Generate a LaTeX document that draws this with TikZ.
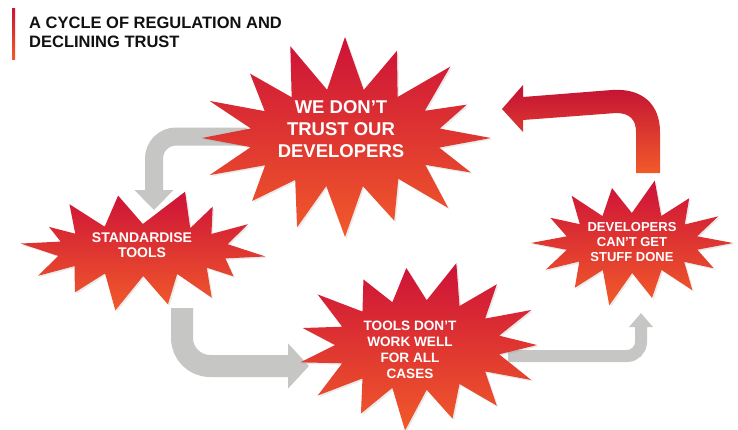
\documentclass[tikz,border=0pt]{standalone}
\usepackage{fontspec}
\setmainfont{Liberation Sans}
\usetikzlibrary{calc,arrows.meta,shadows}
\definecolor{burstTop}{HTML}{CD1238}
\definecolor{burstBot}{HTML}{F15A2A}
\definecolor{flowGrey}{HTML}{C6C7C5}
\definecolor{ink}{HTML}{111111}
\tikzset{
  burst/.style={top color=burstTop, bottom color=burstBot,
    drop shadow={opacity=0.16, shadow xshift=1.5pt, shadow yshift=-1.5pt}},
  lbl/.style={text=white, font=\bfseries, align=center, inner sep=0pt},
  flow/.style={draw=flowGrey, line cap=butt},
  title/.style={text=ink, font=\bfseries\fontsize{16.5}{19}\selectfont, align=left, inner sep=0pt},
}
% centre, rx, ry, depth, half step, spikes (angle/factor)
\newcommand\starburst[6]{%
  \begin{scope}[shift={(#1)}]
    \path[burst] ({-#5}:{#2-#4} and {#3-#4})
      \foreach \a/\k in {#6} { -- (\a:{\k*#2} and {\k*#3}) -- ({\a+#5}:{#2-#4} and {#3-#4}) } -- cycle;
  \end{scope}}

\begin{document}
\begin{tikzpicture}[x=1pt, y=-1pt]
  \fill[white] (0,0) rectangle (738,429);
  \useasboundingbox (0,0) rectangle (738,429);

  % title
  \shade[top color=burstTop, bottom color=burstBot] (12,8) rectangle (15,59);
  \node[title, anchor=north west] (head) at (29,16.7) {A CYCLE OF REGULATION AND\\DECLINING TRUST};

  % arrow ends
  \coordinate (aFrom) at (247,136.5);
  \coordinate (aTo) at (154,210);
  \coordinate (bFrom) at (182,308);
  \coordinate (bTo) at (309,366);
  \coordinate (cFrom) at (508,356);
  \coordinate (cTo) at (641,313);

  \draw[flow, line width=18pt, rounded corners=22pt, -{Triangle[length=20pt,width=38pt]}] (aFrom) -| (aTo);
  \draw[flow, line width=22pt, rounded corners=28pt, -{Triangle[length=21pt,width=44pt]}] (bFrom) |- (bTo);
  \draw[flow, line width=12pt, rounded corners=14pt, -{Triangle[length=14pt,width=23pt]}] (cFrom) -| (cTo);

  % red return arrow
  \shade[top color=burstTop!95!black, bottom color=burstBot]
    (636,173) -- (636,132) .. controls (636,120) and (630,113) .. (616,113)
    -- (523,120) -- (523,132) -- (502,109) -- (523,85) -- (523,97)
    -- (612,90) .. controls (642,88) and (660,104) .. (660,132) -- (660,173) -- cycle;

  % bursts
  \starburst{345,138}{146}{99}{50}{11.25}{0/1.0, 22/0.93, 45/1.0, 68/0.9, 90/1.0, 110/0.96, 135/0.9, 158/1.0, 180/0.98, 202/1.0, 225/0.92, 248/1.0, 270/1.02, 292/0.95, 315/1.02, 338/0.9}
  \starburst{143,250}{123}{62}{36}{12.86}{6/1.0, 30/0.85, 54/0.95, 77/0.9, 103/1.0, 129/0.88, 154/0.95, 186/1.0, 206/0.85, 231/0.95, 257/0.9, 290/1.0, 309/0.9, 334/0.95}
  \starburst{418,345}{124}{86}{41}{12}{0/0.96, 24/1.0, 48/0.95, 72/0.9, 96/1.0, 120/0.92, 144/1.0, 168/0.97, 192/0.95, 216/1.0, 240/0.88, 264/0.9, 288/1.0, 312/0.95, 336/1.0}
  \starburst{632,243}{101}{64}{34}{12.86}{0/1.0, 26/0.9, 51/0.95, 77/0.88, 103/1.0, 129/0.9, 154/0.95, 180/1.0, 206/0.9, 231/0.95, 257/0.88, 283/1.0, 309/0.9, 334/0.95}

  % labels
  \node[lbl, font=\bfseries\fontsize{18.5}{22}\selectfont] (trust) at (341,129.5) {WE DON'T\\TRUST OUR\\DEVELOPERS};
  \node[lbl, font=\bfseries\fontsize{14}{15}\selectfont] (stdtools) at (142,245) {STANDARDISE\\TOOLS};
  \node[lbl, font=\bfseries\fontsize{13.6}{16.2}\selectfont] (toolswork) at (410,350) {TOOLS DON'T\\WORK WELL\\FOR ALL\\CASES};
  \node[lbl, font=\bfseries\fontsize{13}{15}\selectfont] (stuffdone) at (632,242) {DEVELOPERS\\CAN'T GET\\STUFF DONE};
\end{tikzpicture}
\end{document}
